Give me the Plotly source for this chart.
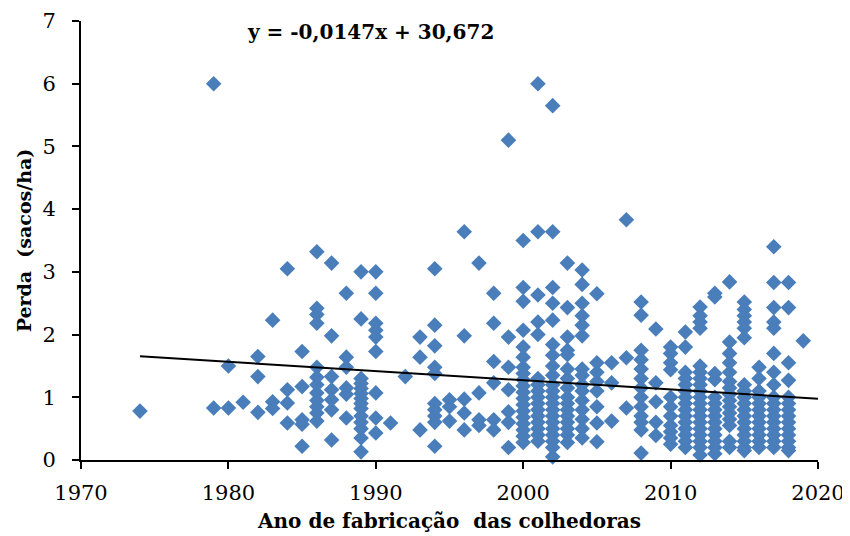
import plotly.graph_objects as go

# Years of manufacture (unique) and the losses observed for each year
anos = [1974, 1979, 1980, 1981, 1982, 1983, 1984, 1985, 1986, 1987, 1988, 1989,
        1990, 1991, 1992, 1993, 1994, 1995, 1996, 1997, 1998, 1999, 2000, 2001,
        2002, 2003, 2004, 2005, 2006, 2007, 2008, 2009, 2010, 2011, 2012, 2013,
        2014, 2015, 2016, 2017, 2018, 2019]

perdas = [
    [0.78],
    [6.0, 0.83],
    [1.5, 0.83],
    [0.92],
    [1.65, 1.33, 0.76],
    [2.23, 0.93, 0.82],
    [3.05, 1.12, 0.91, 0.59],
    [1.73, 1.17, 0.64, 0.57, 0.22],
    [3.32, 2.42, 2.32, 2.18, 1.48, 1.32, 1.2, 1.07, 0.95, 0.85, 0.75, 0.62],
    [3.14, 1.98, 1.33, 1.12, 0.96, 0.8, 0.32],
    [2.66, 1.64, 1.48, 1.15, 1.05, 0.67],
    [3.0, 2.25, 1.3, 1.22, 1.14, 1.06, 0.98, 0.9, 0.82, 0.7, 0.6, 0.5, 0.35, 0.13],
    [3.0, 2.66, 2.18, 2.07, 1.96, 1.73, 1.07, 0.67, 0.43],
    [0.59],
    [1.33],
    [1.96, 1.64, 0.48],
    [3.05, 2.15, 1.82, 1.48, 1.38, 0.9, 0.8, 0.7, 0.6, 0.22],
    [0.96, 0.85, 0.62],
    [3.64, 1.98, 0.97, 0.75, 0.48],
    [3.14, 1.07, 0.64, 0.55],
    [2.66, 2.18, 1.57, 1.23, 0.64, 0.48],
    [5.1, 1.96, 1.48, 1.12, 0.77, 0.6, 0.2],
    [3.5, 2.75, 2.53, 2.07, 1.8, 1.64, 1.48, 1.38, 1.28, 1.18, 1.08, 0.98, 0.88,
     0.78, 0.68, 0.58, 0.48, 0.38, 0.28],
    [6.0, 3.64, 2.63, 2.2, 2.0, 1.3, 1.2, 1.1, 1.0, 0.9, 0.8, 0.7, 0.6, 0.5, 0.4, 0.3],
    [5.65, 3.64, 2.75, 2.5, 2.23, 1.84, 1.67, 1.5, 1.35, 1.2, 1.1, 1.0, 0.9, 0.8,
     0.7, 0.6, 0.5, 0.4, 0.3, 0.2, 0.05],
    [3.14, 2.43, 1.96, 1.75, 1.68, 1.45, 1.3, 1.15, 1.0, 0.9, 0.8, 0.7, 0.6, 0.5, 0.4, 0.28],
    [3.03, 2.8, 2.5, 2.3, 2.15, 1.98, 1.45, 1.35, 1.2, 1.1, 0.95, 0.8, 0.65, 0.5, 0.35],
    [2.65, 1.55, 1.4, 1.25, 1.1, 0.85, 0.59, 0.29],
    [1.55, 1.23, 0.62],
    [3.83, 1.63, 0.83],
    [2.52, 2.31, 1.75, 1.6, 1.45, 1.3, 1.15, 1.0, 0.85, 0.7, 0.6, 0.48, 0.11],
    [2.09, 1.23, 0.93, 0.6, 0.39],
    [1.8, 1.7, 1.55, 1.44, 1.0, 0.85, 0.7, 0.55, 0.45, 0.35, 0.25],
    [2.04, 1.8, 1.4, 1.3, 1.2, 1.1, 1.0, 0.9, 0.8, 0.7, 0.6, 0.5, 0.4, 0.3, 0.2],
    [2.44, 2.3, 2.2, 2.1, 1.5, 1.4, 1.3, 1.2, 1.1, 1.0, 0.9, 0.8, 0.7, 0.6, 0.5,
     0.4, 0.3, 0.2, 0.08],
    [2.66, 2.6, 1.38, 1.28, 1.0, 0.9, 0.8, 0.7, 0.6, 0.5, 0.4, 0.3, 0.2, 0.1],
    [2.84, 1.88, 1.7, 1.55, 1.4, 1.25, 1.15, 1.05, 0.95, 0.85, 0.75, 0.65, 0.55, 0.3, 0.2],
    [2.52, 2.4, 2.3, 2.2, 2.1, 1.95, 1.2, 1.1, 1.0, 0.9, 0.8, 0.7, 0.6, 0.5, 0.4,
     0.3, 0.2, 0.15],
    [1.48, 1.3, 1.1, 1.0, 0.9, 0.8, 0.7, 0.6, 0.5, 0.4, 0.3, 0.2],
    [3.4, 2.83, 2.43, 2.2, 2.1, 1.7, 1.4, 1.2, 1.0, 0.9, 0.8, 0.7, 0.6, 0.5, 0.4,
     0.3, 0.2],
    [2.83, 2.43, 1.55, 1.27, 1.0, 0.9, 0.8, 0.7, 0.6, 0.5, 0.4, 0.3, 0.2, 0.15],
    [1.9],
]

# Linear trend (as printed on the chart)
inclinacao = -0.0147
intercepto = 30.672
trend_x = [1974, 2020]

x_ticks = [1970, 1980, 1990, 2000, 2010, 2020]
y_ticks = [0, 1, 2, 3, 4, 5, 6, 7]

xs, ys = [], []
for a, vals in zip(anos, perdas):
    for v in vals:
        xs.append(a)
        ys.append(v)

trend_y = [inclinacao * x + intercepto for x in trend_x]

FONT = "DejaVu Serif"

# page body has an 8px default margin: compensate so the plot area sits at
# screen x 81..818 and y 21..460
W, H = 842, 528
ML, MR, MT, MB = 73, 32, 13, 76
plot_w = W - ML - MR
plot_h = H - MT - MB

fig = go.Figure()
fig.add_trace(go.Scatter(
    x=xs, y=ys, mode="markers",
    marker=dict(symbol="diamond", size=12, color="#4A7EBB", line=dict(width=0)),
    showlegend=False, cliponaxis=False,
))
fig.add_trace(go.Scatter(
    x=trend_x, y=trend_y, mode="lines",
    line=dict(color="black", width=2), showlegend=False,
))

fig.add_annotation(
    x=(245 - 81) / plot_w, y=1 - (32 - 21) / plot_h,
    xref="paper", yref="paper", xanchor="left", yanchor="middle",
    showarrow=False, text="<b>y = -0,0147x + 30,672</b>",
    font=dict(family=FONT, size=20, color="black"),
)

fig.update_layout(
    width=W, height=H, autosize=False,
    margin=dict(l=ML, r=MR, t=MT, b=MB),
    plot_bgcolor="white", paper_bgcolor="white",
    font=dict(family=FONT, size=20, color="black"),
)
fig.update_xaxes(
    range=[1970, 2020], tickvals=x_ticks, ticktext=[str(t) for t in x_ticks],
    showgrid=False, zeroline=False, showline=True, linecolor="black", linewidth=2,
    ticks="outside", ticklen=7, tickwidth=2, tickcolor="black",
    tickfont=dict(family=FONT, size=21), ticklabelstandoff=6,
    automargin=False,
    title=dict(text="<b>Ano de fabricação  das colhedoras</b>",
               font=dict(family=FONT, size=20), standoff=10),
)
fig.update_yaxes(
    range=[0, 7], tickvals=y_ticks, ticktext=[str(t) for t in y_ticks],
    showgrid=False, zeroline=False, showline=True, linecolor="black", linewidth=2,
    ticks="outside", ticklen=7, tickwidth=2, tickcolor="black",
    tickfont=dict(family=FONT, size=21), ticklabelstandoff=12,
    automargin=False,
    title=dict(text="<b>Perda  (sacos/ha)</b>", font=dict(family=FONT, size=19),
               standoff=6),
)

fig.write_html("out.html")
